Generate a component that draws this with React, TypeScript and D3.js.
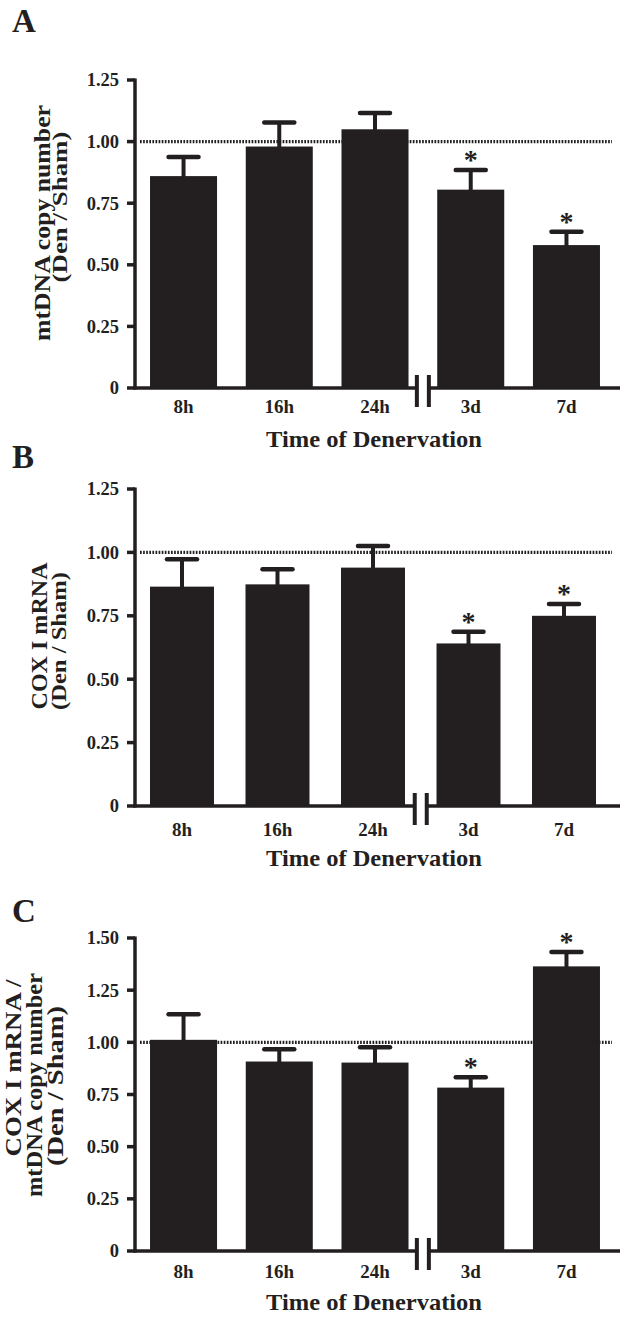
import React from "react";
import * as d3 from "d3";

// ---------- data ----------
const categories = ["8h", "16h", "24h", "3d", "7d"];

const mtdnaMean = [0.86, 0.98, 1.05, 0.805, 0.58];
const mtdnaSem = [0.077, 0.098, 0.066, 0.08, 0.054];
const mtdnaSig = [false, false, false, true, true];

const coxMean = [0.865, 0.874, 0.94, 0.641, 0.75];
const coxSem = [0.108, 0.06, 0.085, 0.046, 0.047];
const coxSig = [false, false, false, true, true];

const ratioMean = [1.012, 0.908, 0.903, 0.783, 1.364];
const ratioSem = [0.123, 0.059, 0.074, 0.05, 0.069];
const ratioSig = [false, false, false, true, true];

const ticksAB = [0, 0.25, 0.5, 0.75, 1.0, 1.25];
const tickLabelsAB = ["0", "0.25", "0.50", "0.75", "1.00", "1.25"];
const ticksC = [0, 0.25, 0.5, 0.75, 1.0, 1.25, 1.5];
const tickLabelsC = ["0", "0.25", "0.50", "0.75", "1.00", "1.25", "1.50"];

const xTitle = "Time of Denervation";
const reference = 1.0;

// ---------- layout ----------
const INK = "#231f20";
const FONT = "'Liberation Serif', 'Times New Roman', serif";

type YLabelLine = { text: string; x: number; y: number; len: number; fs: number };

const panels = [
  {
    letter: "A", letterY: 32,
    mean: mtdnaMean, sem: mtdnaSem, sig: mtdnaSig,
    ticks: ticksAB, tickLabels: tickLabelsAB, yMax: 1.25,
    yTop: 80, yBottom: 388,
    xRange: [135, 615], padInner: 0.3, padOuter: 0.157,
    catDy: 25, titleY: 447,
    yLabel: [
      { text: "mtDNA copy number", x: 50, y: 223, len: 236, fs: 23 },
      { text: "(Den / Sham)", x: 67, y: 207, len: 151, fs: 20 },
    ] as YLabelLine[],
  },
  {
    letter: "B", letterY: 468,
    mean: coxMean, sem: coxSem, sig: coxSig,
    ticks: ticksAB, tickLabels: tickLabelsAB, yMax: 1.25,
    yTop: 489, yBottom: 806,
    xRange: [135, 611], padInner: 0.33, padOuter: 0.157,
    catDy: 30, titleY: 866,
    yLabel: [
      { text: "COX I mRNA", x: 47, y: 636, len: 147, fs: 24 },
      { text: "(Den / Sham)", x: 66, y: 641, len: 138, fs: 22 },
    ] as YLabelLine[],
  },
  {
    letter: "C", letterY: 922,
    mean: ratioMean, sem: ratioSem, sig: ratioSig,
    ticks: ticksC, tickLabels: tickLabelsC, yMax: 1.5,
    yTop: 938, yBottom: 1251,
    xRange: [135, 615], padInner: 0.3, padOuter: 0.157,
    catDy: 27, titleY: 1310,
    yLabel: [
      { text: "COX I mRNA /", x: 21, y: 1068, len: 177, fs: 23 },
      { text: "mtDNA copy number", x: 42, y: 1085, len: 224, fs: 23 },
      { text: "(Den / Sham)", x: 63, y: 1086, len: 160, fs: 23 },
    ] as YLabelLine[],
  },
];

function Panel({ p }: { p: (typeof panels)[number] }) {
  const x = d3
    .scaleBand<string>()
    .domain(categories)
    .range(p.xRange as [number, number])
    .paddingInner(p.padInner)
    .paddingOuter(p.padOuter);
  const y = d3.scaleLinear().domain([0, p.yMax]).range([p.yBottom, p.yTop]);
  const bw = x.bandwidth();
  const axisX = 135;
  const y0 = y(0);
  const breakX = (x(categories[2])! + bw + x(categories[3])!) / 2;
  const axisEnd = 620;

  return (
    <g>
      <text x={12} y={p.letterY} fontFamily={FONT} fontWeight="bold" fontSize={33} fill={INK}>
        {p.letter}
      </text>

      {/* bars */}
      {categories.map((c, i) => (
        <rect key={c} x={x(c)} y={y(p.mean[i])} width={bw} height={y0 - y(p.mean[i])} fill={INK} />
      ))}

      {/* error bars */}
      {categories.map((c, i) => {
        const cx = x(c)! + bw / 2;
        const yt = y(p.mean[i] + p.sem[i]);
        return (
          <g key={c} stroke={INK} strokeWidth={4}>
            <line x1={cx} x2={cx} y1={y(p.mean[i]) + 1} y2={yt} />
            <line x1={cx - 15} x2={cx + 15} y1={yt} y2={yt} strokeLinecap="round" strokeWidth={4.5} />
            {p.sig[i] && (
              <text
                x={cx}
                y={yt - 1}
                textAnchor="middle"
                fontFamily={FONT}
                fontWeight="bold"
                fontSize={28}
                fill={INK}
                stroke="none"
              >
                *
              </text>
            )}
          </g>
        );
      })}

      {/* reference dotted line */}
      <line
        x1={140}
        x2={612}
        y1={y(reference)}
        y2={y(reference)}
        stroke={INK}
        strokeWidth={3.2}
        strokeDasharray="1.7 1.4"
      />

      {/* y axis */}
      <line x1={axisX} x2={axisX} y1={y(p.yMax) - 1.5} y2={y0 + 1.5} stroke={INK} strokeWidth={3.5} />
      {p.ticks.map((t, i) => (
        <g key={t}>
          <line x1={axisX - 8} x2={axisX} y1={y(t)} y2={y(t)} stroke={INK} strokeWidth={3.5} />
          <text
            x={119}
            y={y(t)}
            dy="0.35em"
            textAnchor="end"
            fontFamily={FONT}
            fontWeight="bold"
            fontSize={18.5}
            fill={INK}
          >
            {p.tickLabels[i]}
          </text>
        </g>
      ))}

      {/* x axis with break */}
      <line x1={axisX - 1.5} x2={breakX - 6} y1={y0} y2={y0} stroke={INK} strokeWidth={3.5} />
      <line x1={breakX + 6} x2={axisEnd} y1={y0} y2={y0} stroke={INK} strokeWidth={3.5} />
      <line x1={breakX - 6} x2={breakX - 6} y1={y0 - 13} y2={y0 + 19} stroke={INK} strokeWidth={4} />
      <line x1={breakX + 6} x2={breakX + 6} y1={y0 - 13} y2={y0 + 19} stroke={INK} strokeWidth={4} />

      {categories.map((c) => (
        <text
          key={c}
          x={x(c)! + bw / 2}
          y={y0 + p.catDy}
          textAnchor="middle"
          fontFamily={FONT}
          fontWeight="bold"
          fontSize={19}
          fill={INK}
        >
          {c}
        </text>
      ))}

      <text
        x={374}
        y={p.titleY}
        textAnchor="middle"
        fontFamily={FONT}
        fontWeight="bold"
        fontSize={24}
        textLength={216}
        lengthAdjust="spacingAndGlyphs"
        fill={INK}
      >
        {xTitle}
      </text>

      {p.yLabel.map((l) => (
        <text
          key={l.text}
          transform={`translate(${l.x},${l.y}) rotate(-90)`}
          textAnchor="middle"
          fontFamily={FONT}
          fontWeight="bold"
          fontSize={l.fs}
          textLength={l.len}
          lengthAdjust="spacingAndGlyphs"
          fill={INK}
        >
          {l.text}
        </text>
      ))}
    </g>
  );
}

export default function App() {
  return (
    <svg
      width={628}
      height={1318}
      style={{ position: "absolute", left: 0, top: 0, background: "#fff" }}
    >
      <rect width={628} height={1318} fill="#fff" />
      {panels.map((p) => (
        <Panel key={p.letter} p={p} />
      ))}
    </svg>
  );
}
